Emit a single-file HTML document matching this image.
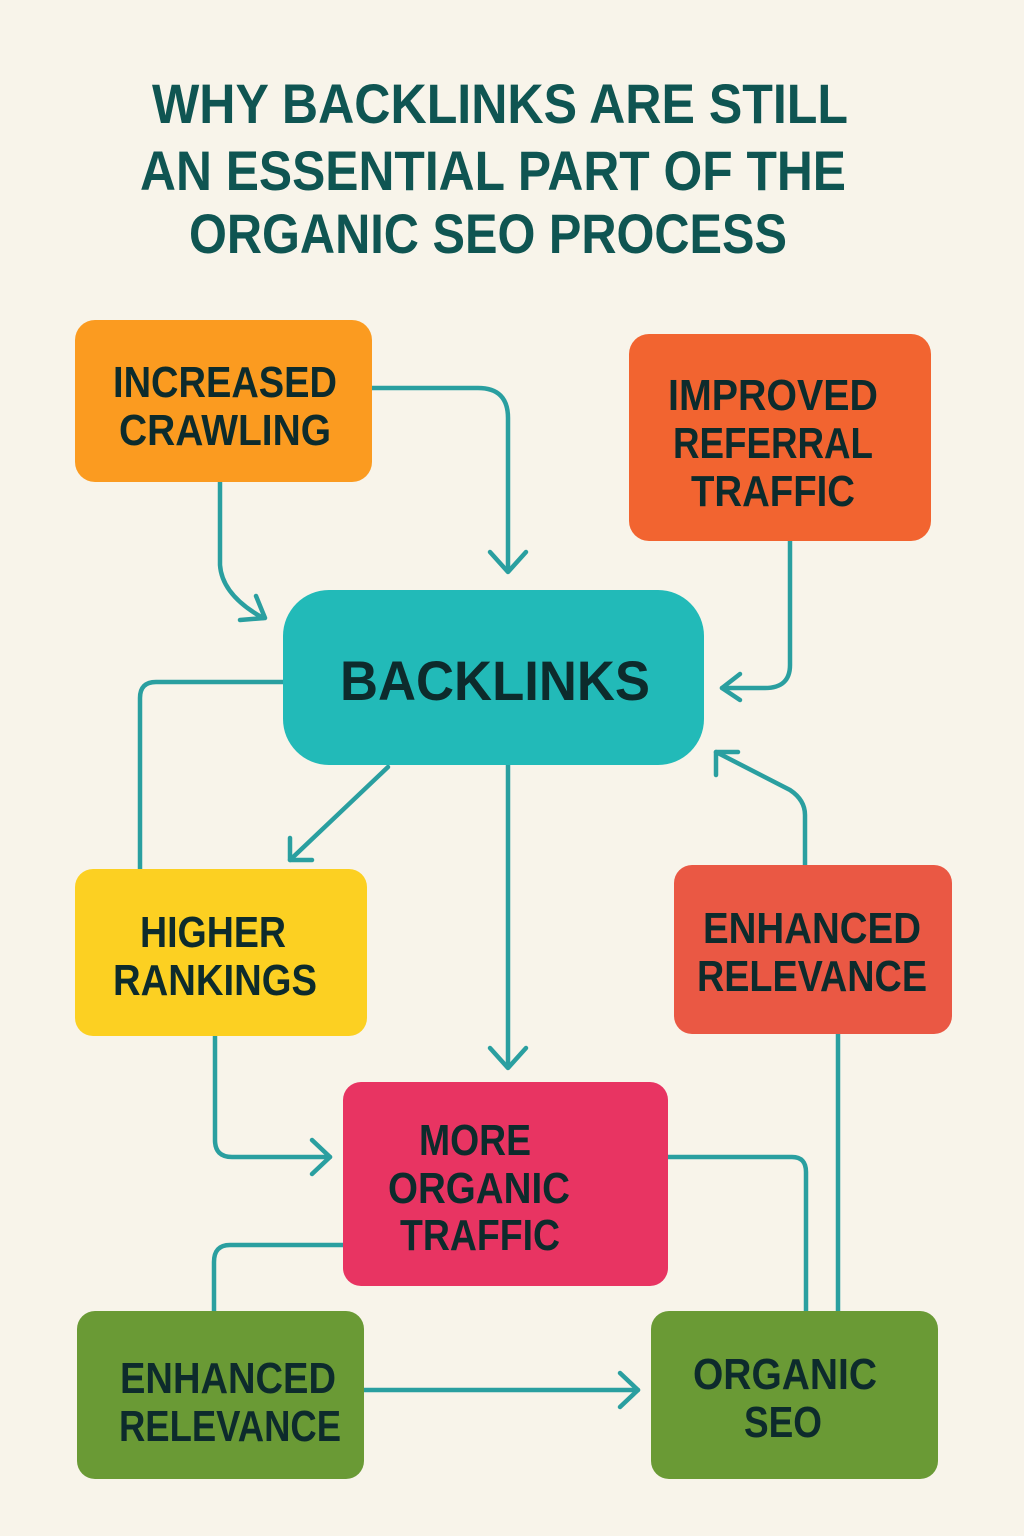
<!DOCTYPE html>
<html><head><meta charset="utf-8">
<style>
html,body{margin:0;padding:0;background:#f8f4ea;}
svg{display:block}
text{font-family:"Liberation Sans",sans-serif;font-weight:bold;text-anchor:middle;}
</style></head><body>
<svg width="1024" height="1536" viewBox="0 0 1024 1536" xmlns="http://www.w3.org/2000/svg">
<rect width="1024" height="1536" fill="#f8f4ea"/>
<g fill="#0f5552" font-size="56">
<text x="500" y="123" textLength="696" lengthAdjust="spacingAndGlyphs">WHY BACKLINKS ARE STILL</text>
<text x="493" y="190" textLength="706" lengthAdjust="spacingAndGlyphs">AN ESSENTIAL PART OF THE</text>
<text x="488" y="253" textLength="598" lengthAdjust="spacingAndGlyphs">ORGANIC SEO PROCESS</text>
</g>
<g fill="none" stroke="#2a9fa0" stroke-width="4.5" stroke-linecap="round" stroke-linejoin="round">
<path d="M372 388 H478 Q508 388 508 418 V570"/>
<path d="M490 552 L508 572 L526 552"/>
<path d="M220 482 V565 Q222 595 263 618"/>
<path d="M256 596 L265 618 L240 620"/>
<path d="M790 541 V665 Q790 688 765 688 H722"/>
<path d="M740 674 L722 688 L740 700"/>
<path d="M283 682 H156 Q140 682 140 698 V869"/>
<path d="M388 767 L290 860"/>
<path d="M290 838 L290 860 L312 860"/>
<path d="M508 765 V1066"/>
<path d="M490 1048 L508 1068 L526 1048"/>
<path d="M805 865 V815 Q805 800 790 790 L716 752"/>
<path d="M716 775 L716 752 L738 752"/>
<path d="M215 1036 V1140 Q215 1157 232 1157 H330"/>
<path d="M312 1140 L330 1157 L312 1174"/>
<path d="M668 1157 H792 Q806 1157 806 1172 V1311"/>
<path d="M838 1034 V1311"/>
<path d="M343 1245 H230 Q214 1245 214 1262 V1311"/>
<path d="M364 1390 H638"/>
<path d="M620 1373 L638 1390 L620 1407"/>
</g>
<rect x="75" y="320" width="297" height="162" rx="20" fill="#fb9b20"/>
<rect x="629" y="334" width="302" height="207" rx="20" fill="#f26430"/>
<rect x="283" y="590" width="421" height="175" rx="46" fill="#22bab8"/>
<rect x="75" y="869" width="292" height="167" rx="18" fill="#fcd022"/>
<rect x="674" y="865" width="278" height="169" rx="18" fill="#ea5844"/>
<rect x="343" y="1082" width="325" height="204" rx="18" fill="#e83462"/>
<rect x="77" y="1311" width="287" height="168" rx="18" fill="#6a9a35"/>
<rect x="651" y="1311" width="287" height="168" rx="18" fill="#6a9a35"/>
<g fill="#0d2b2c" font-size="44">
<text x="225" y="397" textLength="224" lengthAdjust="spacingAndGlyphs">INCREASED</text>
<text x="225" y="445" textLength="212" lengthAdjust="spacingAndGlyphs">CRAWLING</text>
<text x="773" y="410" textLength="210" lengthAdjust="spacingAndGlyphs">IMPROVED</text>
<text x="773" y="458" textLength="200" lengthAdjust="spacingAndGlyphs">REFERRAL</text>
<text x="773" y="506" textLength="164" lengthAdjust="spacingAndGlyphs">TRAFFIC</text>
<text x="495" y="700" font-size="56" textLength="310" lengthAdjust="spacingAndGlyphs">BACKLINKS</text>
<text x="213" y="947" textLength="146" lengthAdjust="spacingAndGlyphs">HIGHER</text>
<text x="215" y="995" textLength="204" lengthAdjust="spacingAndGlyphs">RANKINGS</text>
<text x="812" y="943" textLength="218" lengthAdjust="spacingAndGlyphs">ENHANCED</text>
<text x="812" y="991" textLength="230" lengthAdjust="spacingAndGlyphs">RELEVANCE</text>
<text x="475" y="1155" textLength="112" lengthAdjust="spacingAndGlyphs">MORE</text>
<text x="479" y="1203" textLength="182" lengthAdjust="spacingAndGlyphs">ORGANIC</text>
<text x="480" y="1250" textLength="160" lengthAdjust="spacingAndGlyphs">TRAFFIC</text>
<text x="228" y="1393" textLength="216" lengthAdjust="spacingAndGlyphs">ENHANCED</text>
<text x="230" y="1441" textLength="222" lengthAdjust="spacingAndGlyphs">RELEVANCE</text>
<text x="785" y="1389" textLength="184" lengthAdjust="spacingAndGlyphs">ORGANIC</text>
<text x="783" y="1437" textLength="78" lengthAdjust="spacingAndGlyphs">SEO</text>
</g>
</svg>
</body></html>
